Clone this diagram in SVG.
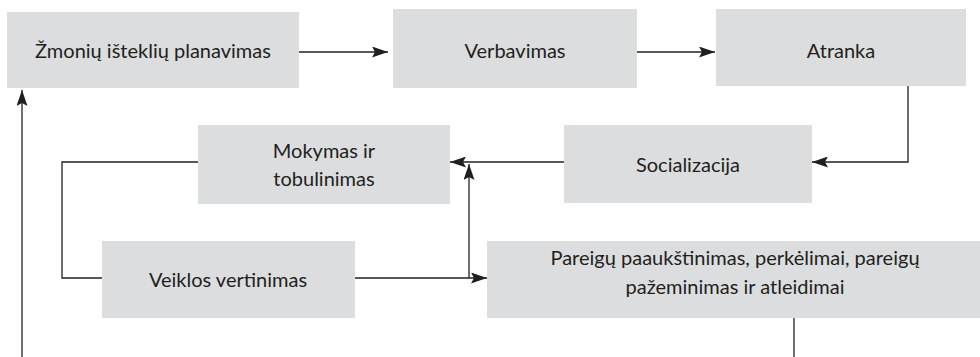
<svg xmlns="http://www.w3.org/2000/svg" width="980" height="357" viewBox="0 0 980 357">
<defs>
<style>
.box{fill:#dcdddf;}
.t{font-family:Lato,"Open Sans","Liberation Sans",sans-serif;font-size:20px;fill:#231f20;text-anchor:middle;}
.c{fill:none;stroke:#231f20;stroke-width:1.3;}
</style>
<marker id="ah" markerWidth="16" markerHeight="11" refX="16" refY="5.5" orient="auto" markerUnits="userSpaceOnUse">
<path d="M0,0 L16,5.5 L0,11 L3,5.5 Z" fill="#231f20"/>
</marker>
</defs>
<rect width="980" height="357" fill="#fff"/>
<g id="n1"><rect class="box" x="7" y="12" width="292" height="76"/><text class="t" x="153" y="58">Žmonių išteklių planavimas</text></g>
<g id="n2"><rect class="box" x="393" y="9" width="244" height="79"/><text class="t" x="515" y="58">Verbavimas</text></g>
<g id="n3"><rect class="box" x="716" y="9" width="250" height="77"/><text class="t" x="841" y="58">Atranka</text></g>
<g id="n4"><rect class="box" x="564" y="125" width="248" height="78"/><text class="t" x="688" y="172">Socializacija</text></g>
<g id="n5"><rect class="box" x="198" y="125" width="252" height="79"/><text class="t" x="324" y="158">Mokymas ir</text><text class="t" x="324" y="186">tobulinimas</text></g>
<g id="n6"><rect class="box" x="102" y="241" width="253" height="77"/><text class="t" x="228" y="287">Veiklos vertinimas</text></g>
<g id="n7"><rect class="box" x="487" y="241" width="493" height="77"/><text class="t" x="735" y="265">Pareigų paaukštinimas, perkėlimai, pareigų</text><text class="t" x="735" y="294">pažeminimas ir atleidimai</text></g>
<g id="connectors">
<line class="c" x1="299" y1="52" x2="388" y2="52" marker-end="url(#ah)"/>
<line class="c" x1="637" y1="52" x2="715" y2="52" marker-end="url(#ah)"/>
<polyline class="c" points="908,86 908,162 812,162" marker-end="url(#ah)"/>
<line class="c" x1="564" y1="162" x2="450" y2="162" marker-end="url(#ah)"/>
<polyline class="c" points="198,162 62,162 62,278 102,278"/>
<line class="c" x1="355" y1="278" x2="487" y2="278" marker-end="url(#ah)"/>
<line class="c" x1="469" y1="278" x2="469" y2="164" marker-end="url(#ah)"/>
<line class="c" x1="794" y1="318" x2="794" y2="357"/>
<line class="c" x1="22" y1="357" x2="22" y2="90" marker-end="url(#ah)"/>
</g>
</svg>
